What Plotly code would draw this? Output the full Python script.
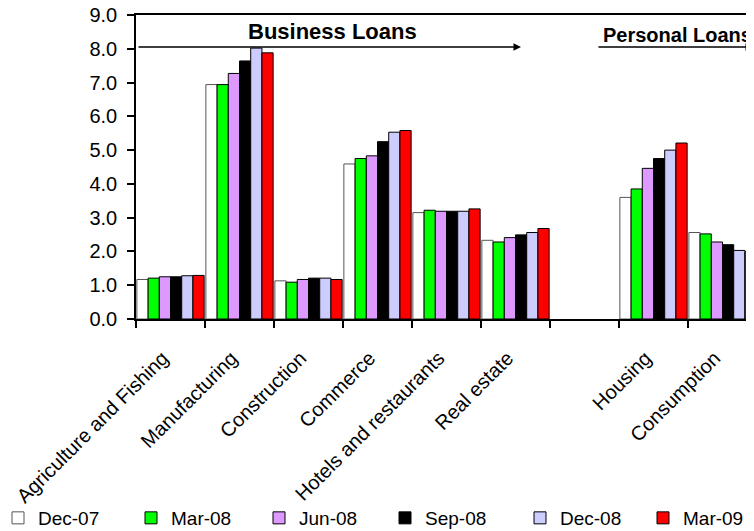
import plotly.graph_objects as go

categories = ["Agriculture and Fishing", "Manufacturing", "Construction", "Commerce",
              "Hotels and restaurants", "Real estate", " ", "Housing", "Consumption"]

series_names = ["Dec-07", "Mar-08", "Jun-08", "Sep-08", "Dec-08", "Mar-09"]

dec07 = [1.17, 6.94, 1.13, 4.59, 3.15, 2.33, None, 3.60, 2.56]
mar08 = [1.21, 6.94, 1.09, 4.75, 3.22, 2.28, None, 3.85, 2.52]
jun08 = [1.25, 7.27, 1.17, 4.83, 3.19, 2.41, None, 4.46, 2.28]
sep08 = [1.25, 7.64, 1.21, 5.25, 3.19, 2.49, None, 4.75, 2.20]
dec08 = [1.28, 8.02, 1.21, 5.53, 3.19, 2.56, None, 5.00, 2.03]
mar09 = [1.29, 7.88, 1.17, 5.58, 3.26, 2.68, None, 5.21, 1.99]

series_values = [dec07, mar08, jun08, sep08, dec08, mar09]
colors = ["#FFFFFF", "#00FF00", "#DD99FF", "#000000", "#CCCCFF", "#FF0000"]
outline = ["#555555", "#000000", "#000000", "#000000", "#000000", "#000000"]

FONT = "Liberation Sans, Arial, sans-serif"

# page has an 8px body margin; figure coords = page coords - 8
OFF = 8
W, H = 754 - OFF, 531 - OFF
PLOT_L, PLOT_T, PLOT_B = 136, 15, 319          # page coords of plot area
L, T = PLOT_L - OFF, PLOT_T - OFF
B = H - (PLOT_B - OFF)
R = 0
plot_w = W - L - R
plot_h = H - T - B
unit = 69.0
x_max = -0.5 + plot_w / unit

def px_to_x(px):
    return (px - PLOT_L) / unit - 0.5

def py_to_y(py):
    return (PLOT_B - py) / plot_h * 9.0

def page_to_paper_x(px):
    return (px - PLOT_L) / plot_w

def page_to_paper_y(py):
    return (PLOT_B - py) / plot_h

legend_ids = ["legend", "legend2", "legend3", "legend4", "legend5", "legend6"]
marker_left = [14, 147, 275, 401, 536, 659]   # page x of legend swatches

fig = go.Figure()
for name, vals, c, lc, lid in zip(series_names, series_values, colors, outline, legend_ids):
    fig.add_trace(go.Bar(
        x=categories, y=vals, name=name, legend=lid,
        marker=dict(color=c, line=dict(color=lc, width=1)),
    ))

legend_layout = {}
for lid, mx in zip(legend_ids, marker_left):
    legend_layout[lid] = dict(
        x=page_to_paper_x(mx - 16), xanchor="left",
        y=page_to_paper_y(518), yanchor="middle",
        font=dict(family=FONT, size=19, color="black"),
        bgcolor="rgba(0,0,0,0)", borderwidth=0,
    )

tick_labels = [c + "\u00a0\u00a0" if c.strip() else c for c in categories]

fig.update_layout(
    width=W, height=H,
    margin=dict(l=L, r=R, t=T, b=B, autoexpand=False),
    paper_bgcolor="white", plot_bgcolor="white",
    barmode="group", bargap=0.025, bargroupgap=0,
    font=dict(family=FONT, size=20, color="black"),
    showlegend=True,
    xaxis=dict(
        type="category", range=[-0.5, x_max], automargin=False,
        tickmode="array", tickvals=categories, ticktext=tick_labels,
        tickson="boundaries", ticks="outside", ticklen=7, tickcolor="black", tickwidth=1.5,
        showline=True, linecolor="black", linewidth=1.5, mirror=True,
        showgrid=False, tickangle=-45, ticklabelstandoff=10,
        tickfont=dict(family=FONT, size=20, color="black"),
    ),
    yaxis=dict(
        range=[0, 9], dtick=1, tickformat=".1f", automargin=False,
        ticks="outside", ticklen=7, tickcolor="black", tickwidth=1.5,
        showline=True, linecolor="black", linewidth=1.5,
        showgrid=False, zeroline=False, ticklabelstandoff=6,
        ticklabeloverflow="allow",
        tickfont=dict(family=FONT, size=20, color="black"),
    ),
    **legend_layout,
)

# Business Loans arrow + label
fig.add_annotation(
    x=px_to_x(521), y=py_to_y(47), ax=px_to_x(137), ay=py_to_y(47),
    xref="x", yref="y", axref="x", ayref="y",
    showarrow=True, arrowhead=2, arrowsize=1, arrowwidth=1.5, arrowcolor="black", text="",
)
fig.add_annotation(
    x=px_to_x(332), y=py_to_y(31), xref="x", yref="y", showarrow=False,
    text="<b>Business Loans</b>", font=dict(family=FONT, size=22, color="black"),
    xanchor="center", yanchor="middle",
)
# Personal Loans arrow + label
fig.add_annotation(
    x=px_to_x(753), y=py_to_y(47), ax=px_to_x(597), ay=py_to_y(47),
    xref="x", yref="y", axref="x", ayref="y",
    showarrow=True, arrowhead=2, arrowsize=1, arrowwidth=1.5, arrowcolor="black", text="",
)
fig.add_annotation(
    x=px_to_x(601), y=py_to_y(35), xref="x", yref="y", showarrow=False,
    text="<b>Personal Loans</b>", font=dict(family=FONT, size=20, color="black"),
    xanchor="left", yanchor="middle",
)

fig.write_html("out.html")
